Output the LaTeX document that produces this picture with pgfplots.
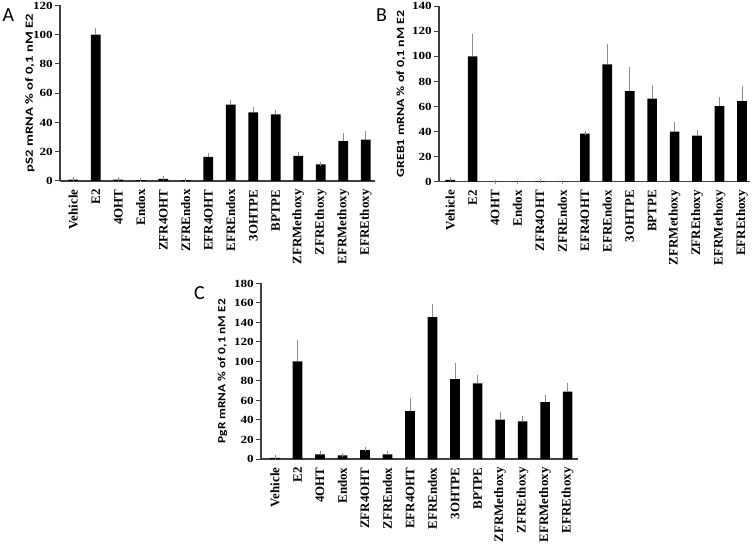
\documentclass[border=0pt]{standalone}
\usepackage{fontspec}
\setmainfont{Liberation Serif}
\newfontfamily\calfont{Carlito}
\newfontfamily\timesfont{Liberation Serif}
\newfontfamily\timeswide[FakeStretch=1.2]{Liberation Serif Bold}
\usepackage{graphicx}
\usepackage{pgfplots}
\usepackage{pgfplotstable}
\pgfplotsset{compat=1.18}

\newcommand\xtfont{\timesfont\fontsize{13}{13}\selectfont\bfseries}
\newcommand\ytfont{\timeswide\fontsize{11}{11}\selectfont}
\newcommand\labfont{\calfont\fontsize{11}{11}\selectfont\bfseries}

\pgfplotstableread{
x y e
0 1 0.3
1 100 3.5
2 1 0.3
3 0.6 0.2
4 1.5 0.5
5 0.6 0.2
6 16.5 1
7 52.3 1.8
8 47 2.5
9 45.5 2
10 17.2 1
11 11.3 0.3
12 27.2 4.2
13 28.3 4.2
}\datA

\pgfplotstableread{
x y e
0 1.5 0.3
1 100 16
2 0 0
3 0 0
4 0.5 0.3
5 0 0
6 38.3 0.7
7 93.5 15
8 72.3 17.2
9 66.2 9.3
10 40 5.8
11 36.7 2.7
12 60.3 5.6
13 64.3 10.1
}\datB

\pgfplotstableread{
x y e
0 1.2 0.5
1 100 20.5
2 4.8 1.7
3 3.8 0.5
4 9.2 1.4
5 4.8 1
6 49.2 11.8
7 145.5 11
8 82 14.3
9 77.5 7
10 40.3 5.7
11 38.6 3.1
12 58.4 5.1
13 69 6.8
}\datC

\pgfplotsset{
  panel/.style={
    ybar, bar width=0.43, scale only axis, height=175.5bp,
    axis x line*=bottom, axis y line*=left,
    axis line style={black!75, line width=1.1bp},
    ymin=0, ytick distance=20,
    xtick={0,...,13},
    xticklabels={Vehicle,E2,4OHT,Endox,ZFR4OHT,ZFREndox,EFR4OHT,EFREndox,3OHTPE,BPTPE,ZFRMethoxy,ZFREthoxy,EFRMethoxy,EFREthoxy},
    x tick style={draw=none},
    y tick style={black!75, line width=1bp},
    tick align=outside, major tick length=5bp,
    xticklabel style={rotate=90, anchor=east, font=\xtfont},
    /pgf/number format/assume math mode=true,
    yticklabel style={font=\ytfont, inner sep=2bp},
    ylabel style={at={(axis description cs:0,0.5)}, anchor=center, font=\labfont},
    clip=false,
  },
  barplot/.style={fill=black, draw=none,
    error bars/.cd, y dir=plus, y explicit,
    error bar style={black!45, line width=0.6bp},
    error mark options={black!45, line width=0.6bp, mark size=2bp}},
}

\begin{document}
\begin{tikzpicture}
\path[use as bounding box] (0bp,0bp) rectangle (754bp,544bp);

\begin{axis}[panel, at={(60bp,363bp)}, anchor=south west, width=315bp,
  xmin=-0.59, xmax=13.41, ymax=120,
  ylabel={\resizebox{158bp}{\height}{pS2 mRNA \% of 0,1 nM E2}},
  ylabel style={yshift=30bp}]
\addplot[barplot] table[x=x, y=y, y error=e] {\datA};
\end{axis}

\begin{axis}[panel, at={(439bp,362.3bp)}, anchor=south west, width=311bp,
  xmin=-0.5, xmax=13.36, ymax=140,
  ylabel={\resizebox{167bp}{\height}{GREB1 mRNA \% of 0,1 nM E2}},
  ylabel style={yshift=38bp}]
\addplot[barplot] table[x=x, y=y, y error=e] {\datB};
\end{axis}

\begin{axis}[panel, at={(261bp,85bp)}, anchor=south west, width=317bp,
  xmin=-0.62, xmax=13.46, ymax=180,
  ylabel={\resizebox{144bp}{\height}{PgR mRNA \% of 0,1 nM E2}},
  ylabel style={yshift=38.5bp}]
\addplot[barplot] table[x=x, y=y, y error=e] {\datC};
\end{axis}

\node[font=\calfont\fontsize{20}{20}\selectfont] at (8.3bp,529bp) {A};
\node[font=\calfont\fontsize{20}{20}\selectfont] at (381.5bp,529bp) {B};
\node[font=\calfont\fontsize{20}{20}\selectfont] at (199.5bp,251bp) {C};
\end{tikzpicture}
\end{document}
